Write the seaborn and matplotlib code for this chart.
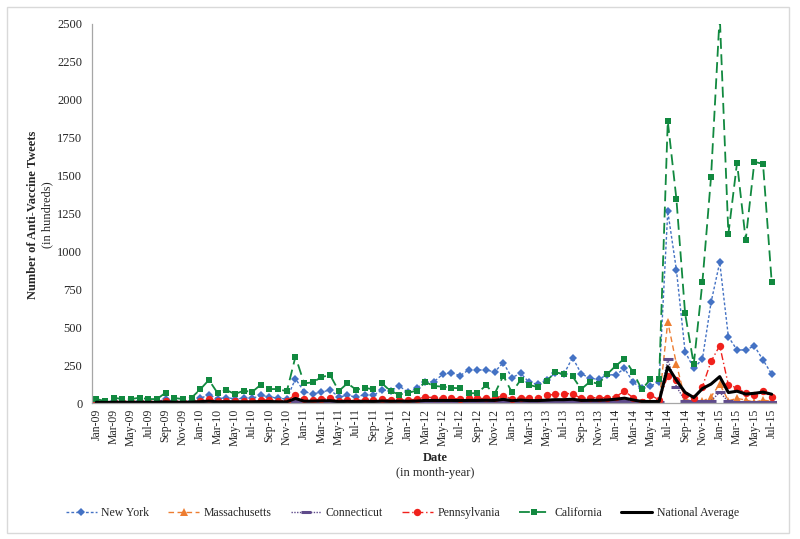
import numpy as np
import pandas as pd
import matplotlib
matplotlib.use("Agg")
import matplotlib.pyplot as plt
from matplotlib.patches import Rectangle
import seaborn as sns

# ---------------- data ----------------
months = list(pd.date_range("2009-01-01", periods=79, freq="MS").strftime("%b-%y"))

new_york = [8, 5, 10, 8, 8, 10, 8, 8, 25, 10, 8, 12,
            30, 55, 28, 35, 28, 30, 30, 50, 42, 30, 28, 160,
            75, 60, 72, 86, 40, 50, 40, 55, 50, 86, 80, 112,
            70, 100, 136, 141, 189, 200, 180, 218, 218, 218, 205, 266,
            167, 196, 136, 123, 154, 195, 190, 300, 194, 163, 156, 187,
            185, 229, 136, 97, 112, 141, 1265, 877, 338, 229, 290, 664,
            928, 437, 350, 350, 376, 284, 191]

massachusetts = [2, 1, 2, 2, 2, 2, 2, 2, 3, 2, 2, 2,
                 3, 5, 3, 3, 3, 3, 3, 4, 4, 3, 3, 8,
                 4, 4, 4, 5, 3, 3, 3, 4, 4, 4, 4, 4,
                 4, 5, 6, 6, 6, 6, 6, 7, 7, 7, 7, 8,
                 6, 7, 6, 6, 7, 8, 8, 9, 6, 6, 6, 7,
                 8, 10, 6, 3, 6, 5, 536, 257, 25, 10, 10, 42,
                 125, 15, 30, 20, 5, 20, 10]

connecticut = [2, 2, 2, 2, 2, 2, 2, 2, 3, 2, 2, 2,
               3, 5, 3, 3, 3, 3, 3, 4, 4, 3, 3, 10,
               5, 5, 5, 6, 4, 4, 4, 5, 5, 5, 5, 6,
               5, 6, 8, 8, 8, 8, 8, 9, 9, 9, 9, 12,
               8, 10, 8, 8, 10, 12, 12, 14, 9, 9, 9, 10,
               12, 14, 8, 5, 8, 8, 288, 108, 15, 10, 10, 15,
               70, 10, 8, 8, 8, 8, 8]

pennsylvania = [5, 3, 5, 5, 5, 5, 5, 5, 15, 5, 5, 8,
                15, 25, 15, 15, 12, 12, 15, 20, 20, 15, 15, 55,
                25, 20, 25, 30, 15, 20, 15, 20, 20, 25, 20, 20,
                20, 25, 40, 35, 30, 30, 28, 30, 30, 30, 30, 48,
                25, 35, 30, 35, 50, 58, 62, 62, 30, 35, 35, 35,
                42, 78, 35, 5, 53, 20, 180, 150, 53, 30, 108, 275,
                378, 119, 100, 64, 53, 78, 42]

california = [26, 13, 35, 26, 26, 35, 26, 26, 68, 33, 26, 35,
              90, 152, 66, 86, 59, 81, 73, 121, 92, 92, 77, 306,
              130, 136, 171, 185, 79, 130, 88, 100, 90, 130, 77, 56,
              67, 82, 138, 112, 108, 100, 97, 64, 65, 116, 60, 180,
              70, 152, 119, 105, 146, 202, 192, 176, 91, 140, 127, 190,
              246, 292, 202, 90, 156, 156, 1860, 1344, 592, 255, 797, 1493,
              2560, 1115, 1585, 1075, 1590, 1578, 800]

national = [5, 4, 5, 5, 5, 5, 5, 5, 8, 5, 5, 6,
            9, 12, 8, 9, 8, 8, 8, 10, 10, 8, 8, 30,
            12, 12, 14, 15, 9, 11, 9, 11, 10, 13, 11, 12,
            11, 13, 17, 17, 17, 17, 16, 17, 17, 18, 17, 24,
            15, 19, 16, 16, 19, 22, 22, 25, 17, 18, 18, 20,
            25, 32, 20, 10, 10, 10, 240, 150, 70, 36, 95, 125,
            174, 69, 78, 59, 64, 72, 58]

series_names = ["New York", "Massachusetts", "Connecticut", "Pennsylvania",
                "California", "National Average"]
series_values = [new_york, massachusetts, connecticut, pennsylvania,
                 california, national]

# ---------------- style ----------------
sns.set_theme(style="white")
plt.rcParams["font.family"] = ["Liberation Serif", "DejaVu Serif"]

styles = {
    "New York":         dict(color="#4472C4", marker="D", markersize=4.4, linestyle=(0, (2, 1.5)), linewidth=1.0),
    "Massachusetts":    dict(color="#ED7D31", marker="^", markersize=5.5, linestyle=(0, (4, 2.5)), linewidth=1.0),
    "Connecticut":      dict(color="#5F4B8B", marker="_", markersize=7, markeredgewidth=2.2, linestyle=(0, (1, 1)), linewidth=1.0),
    "Pennsylvania":     dict(color="#F0211C", marker="o", markersize=5.3, linestyle=(0, (5, 2, 1, 2)), linewidth=1.0),
    "California":       dict(color="#11893F", marker="s", markersize=4.7, linestyle=(0, (6, 3)), linewidth=1.3),
    "National Average": dict(color="black", marker=None, linestyle="-", linewidth=2.2),
}

fig = plt.figure(figsize=(8.0, 5.39), dpi=100)
ax = fig.add_axes([0.115, 0.2523, 0.855, 0.7032])

x_idx = np.arange(len(months))
for name, vals in zip(series_names, series_values):
    st = dict(styles[name])
    mew = st.pop("markeredgewidth", 0.0)
    sns.lineplot(x=x_idx, y=vals, ax=ax, label=name,
                 markeredgewidth=mew, markeredgecolor=st["color"], **st)

ax.set_xlim(-0.5, len(months) - 0.5)
ax.set_ylim(0, 2500)
ax.set_yticks(np.arange(0, 2501, 250))
ax.set_yticklabels([str(v) for v in range(0, 2501, 250)], fontsize=9)
ax.set_xticks(x_idx[::2])
ax.set_xticklabels(months[::2], rotation=90, fontsize=8.5)
ax.tick_params(axis="y", length=0, pad=7)
ax.tick_params(axis="x", length=0, pad=4)

for s in ["top", "right"]:
    ax.spines[s].set_visible(False)
for s in ["left", "bottom"]:
    ax.spines[s].set_color("#A6A6A6")
    ax.spines[s].set_linewidth(0.9)
ax.grid(False)
ax.set_xlabel("")
ax.set_ylabel("")

# axis titles
fig.text(0.5435, 1 - 458 / 539, "Date", ha="center", va="center",
         fontsize=9, fontweight="bold")
fig.text(0.5435, 1 - 473 / 539, "(in month-year)", ha="center", va="center",
         fontsize=9)
fig.text(33 / 800, 1 - 215 / 539, "Number of Anti-Vaccine Tweets", rotation=90,
         ha="center", va="center", fontsize=9, fontweight="bold")
fig.text(47 / 800, 1 - 215 / 539, "(in hundreds)", rotation=90,
         ha="center", va="center", fontsize=9)

# legend
handles, labels = ax.get_legend_handles_labels()
ax.legend_.remove()
fig.legend(handles, labels, loc="center", bbox_to_anchor=(0.503, 1 - 513 / 539),
           ncol=6, frameon=False, fontsize=8.5, handlelength=2.6,
           columnspacing=1.6, handletextpad=0.4)

# outer frame
fig.patches.append(Rectangle((7 / 800, 1 - 533 / 539), 782 / 800, 526 / 539,
                             transform=fig.transFigure, fill=False,
                             edgecolor="#D9D9D9", linewidth=1.0))

fig.savefig("out.png", dpi=100)
